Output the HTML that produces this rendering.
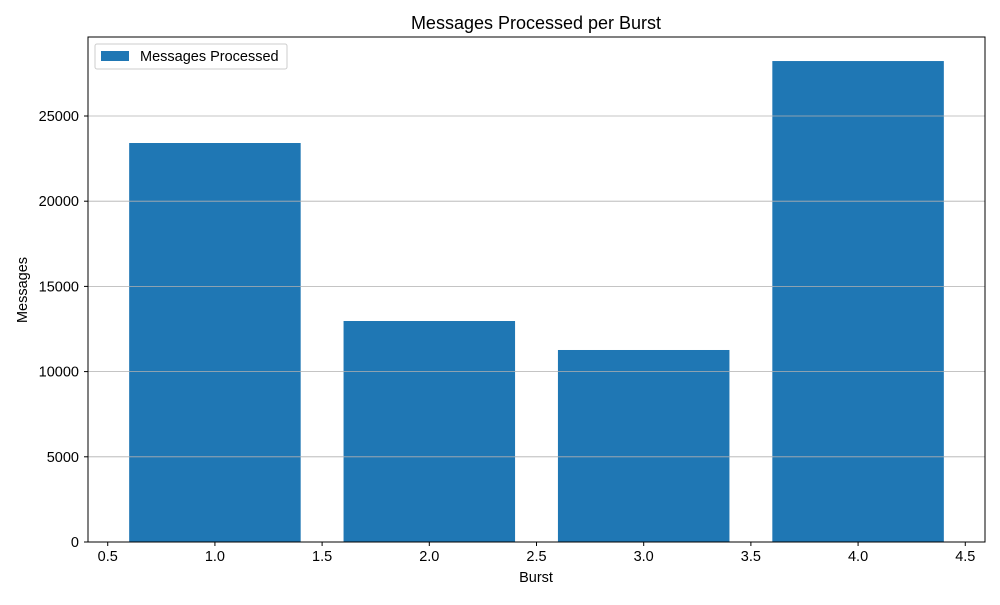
<!DOCTYPE html>
<html><head><meta charset="utf-8"><style>
body{margin:0;background:#fff;font-family:"Liberation Sans",sans-serif;}
</style></head><body>
<svg id="chart" width="1000" height="600" xmlns="http://www.w3.org/2000/svg" font-family="'Liberation Sans',sans-serif">
<rect width="1000" height="600" fill="#fff"/>
<text x="536" y="29" font-size="18" text-anchor="middle">Messages Processed per Burst</text>
<g id="bars"></g><g id="grid"></g><g id="xticks"></g><g id="yticks"></g>
<rect x="88" y="37" width="897" height="505" fill="none" stroke="#000" stroke-width="1"/>
<text x="536" y="582" font-size="14.5" text-anchor="middle">Burst</text>
<text x="27" y="290" font-size="14.5" text-anchor="middle" transform="rotate(-90 27 290)">Messages</text>
<g>
<rect x="95" y="44" width="192" height="25" fill="#fff" stroke="#ccc" rx="2"/>
<rect x="101" y="51" width="28" height="10" fill="#1f77b4"/>
<text x="140" y="61" font-size="14.5">Messages Processed</text>
</g>
</svg>
<script>
const categories=[1,2,3,4];
const values=[23415,12969,11268,28225];
const xTicks=[0.5,1.0,1.5,2.0,2.5,3.0,3.5,4.0,4.5];
const yTicks=[0,5000,10000,15000,20000,25000];
const L=88,R=985,T=37,B=542,xmin=0.408,xmax=4.592,ymax=29636;
const X=v=>L+(v-xmin)/(xmax-xmin)*(R-L);
const Y=v=>B-v/ymax*(B-T);
const ns="http://www.w3.org/2000/svg";
function mk(t,a,p){const e=document.createElementNS(ns,t);for(const k in a)e.setAttribute(k,a[k]);p.appendChild(e);return e;}
const bars=document.getElementById('bars');
categories.forEach((c,i)=>{const e=mk('rect',{x:X(c-0.4),y:Y(values[i]),width:X(c+0.4)-X(c-0.4),height:B-Y(values[i]),fill:'#1f77b4'},bars);

});
const grid=document.getElementById('grid'),yt=document.getElementById('yticks'),xt=document.getElementById('xticks');
yTicks.forEach(v=>{const y=Y(v);
const g=mk('line',{x1:L,x2:R,y1:y,y2:y,stroke:'#b0b0b0','stroke-width':0.8},grid);


mk('line',{x1:L-4,x2:L,y1:y,y2:y,stroke:'#000'},yt);
const t=mk('text',{x:L-9,y:y+5,'font-size':14.5,'text-anchor':'end'},yt);t.textContent=v;

});
xTicks.forEach(v=>{const x=X(v);
mk('line',{x1:x,x2:x,y1:B,y2:B+4,stroke:'#000'},xt);
const t=mk('text',{x:x,y:B+19,'font-size':14.5,'text-anchor':'middle'},xt);t.textContent=v.toFixed(1);

});
</script>
</body></html>
